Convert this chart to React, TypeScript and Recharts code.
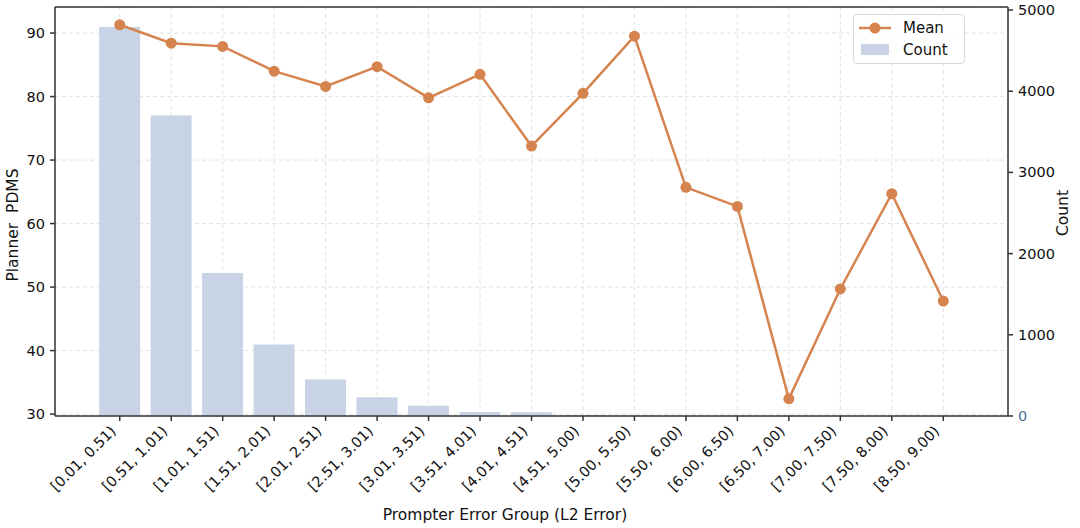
import React from 'react';
import {
  ComposedChart,
  Bar,
  Line,
  XAxis,
  YAxis,
  CartesianGrid,
  ReferenceLine,
} from 'recharts';

const groups = [
  '[0.01, 0.51)', '[0.51, 1.01)', '[1.01, 1.51)', '[1.51, 2.01)', '[2.01, 2.51)',
  '[2.51, 3.01)', '[3.01, 3.51)', '[3.51, 4.01)', '[4.01, 4.51)', '[4.51, 5.00)',
  '[5.00, 5.50)', '[5.50, 6.00)', '[6.00, 6.50)', '[6.50, 7.00)', '[7.00, 7.50)',
  '[7.50, 8.00)', '[8.50, 9.00)',
];
const meanValues = [
  91.3, 88.4, 87.9, 84.0, 81.6, 84.7, 79.8, 83.5, 72.2, 80.5,
  89.5, 65.7, 62.7, 32.4, 49.7, 64.7, 47.8,
];
const countValues = [
  4790, 3700, 1760, 880, 450, 230, 125, 48, 46, 12,
  6, 4, 3, 2, 2, 1, 1,
];
const leftTicks = [30, 40, 50, 60, 70, 80, 90];
const rightTicks = [0, 1000, 2000, 3000, 4000, 5000];

const data = groups.map((g, i) => ({ group: g, mean: meanValues[i], count: countValues[i] }));

const FONT = '"DejaVu Sans", sans-serif';
const ORANGE = '#D5844F';
const BAR = '#C8D4E5';
const AXIS = '#333333';

// right end of the rotated label sits just under the tick, like matplotlib ha="right"
const XTick = ({ x, y, payload }: any) => (
  <g transform={`translate(${x - 3},${y + 9})`}>
    <text transform="rotate(-45)" textAnchor="end" fontSize={14.5} fontFamily={FONT} fill="#111">
      {payload.value}
    </text>
  </g>
);

const LeftTick = ({ x, y, payload }: any) => (
  <text x={x - 3} y={y} dy={5} textAnchor="end" fontSize={14.5} fontFamily={FONT} fill="#111">
    {payload.value}
  </text>
);

const RightTick = ({ x, y, payload }: any) => (
  <text
    x={x + 3}
    y={y}
    dy={5}
    textAnchor="start"
    fontSize={14.5}
    fontFamily={FONT}
    fill={payload.value === 0 ? '#4A7396' : '#111'}
  >
    {payload.value}
  </text>
);

export default function App() {
  return (
    <div style={{ position: 'absolute', left: 0, top: 0, width: 1080, height: 528, background: '#fff' }}>
      <ComposedChart
        width={1080}
        height={528}
        data={data}
        margin={{ top: 7, right: 0, left: 0, bottom: 0 }}
        barCategoryGap="10%"
      >
        <CartesianGrid yAxisId="left" stroke="#e2e2e2" strokeDasharray="4 3" />
        <XAxis
          dataKey="group"
          height={112}
          padding={{ left: 39, right: 39 }}
          tick={<XTick />}
          tickSize={5}
          interval={0}
          stroke={AXIS}
          strokeWidth={1.5}
        />
        <YAxis
          yAxisId="left"
          orientation="left"
          width={55}
          domain={[29.7, 94.1]}
          ticks={leftTicks}
          tick={<LeftTick />}
          tickSize={5}
          stroke={AXIS}
          strokeWidth={1.5}
          allowDataOverflow
        />
        <YAxis
          yAxisId="right"
          orientation="right"
          width={72}
          domain={[0, 5037]}
          ticks={rightTicks}
          tick={<RightTick />}
          tickSize={5}
          stroke={AXIS}
          strokeWidth={1.5}
          allowDataOverflow
        />
        <ReferenceLine yAxisId="left" y={94.1} stroke={AXIS} strokeWidth={1.5} />
        <Bar yAxisId="right" dataKey="count" fill={BAR} isAnimationActive={false} />
        <Line
          yAxisId="left"
          dataKey="mean"
          stroke={ORANGE}
          strokeWidth={2.5}
          dot={{ r: 5.5, fill: ORANGE, stroke: ORANGE, strokeWidth: 0 }}
          isAnimationActive={false}
        />
        <text
          x={18}
          y={225}
          transform="rotate(-90, 18, 225)"
          textAnchor="middle"
          fontSize={15.5}
          fontFamily={FONT}
          fill="#111"
          style={{ whiteSpace: 'pre' }}
        >
          {'Planner  PDMS'}
        </text>
        <text x={1068} y={213} transform="rotate(-90, 1068, 213)" textAnchor="middle" fontSize={15.5} fontFamily={FONT} fill="#111">
          Count
        </text>
        <text x={505} y={520} textAnchor="middle" fontSize={15.5} fontFamily={FONT} fill="#111">
          Prompter Error Group (L2 Error)
        </text>
      </ComposedChart>
      <div
        style={{
          position: 'absolute',
          left: 853,
          top: 14,
          width: 112,
          height: 50,
          border: '1px solid #d8d8d8',
          borderRadius: 4,
          background: 'rgba(255,255,255,0.85)',
          boxSizing: 'border-box',
        }}
      >
        <svg width={112} height={50} style={{ position: 'absolute', left: 0, top: 0 }}>
          <line x1={5} y1={13} x2={37} y2={13} stroke={ORANGE} strokeWidth={2.5} />
          <circle cx={21} cy={13} r={5.5} fill={ORANGE} />
          <rect x={7} y={29} width={28} height={11} fill={BAR} />
          <text x={49} y={18} fontSize={15} fontFamily={FONT} fill="#111">Mean</text>
          <text x={49} y={40} fontSize={15} fontFamily={FONT} fill="#111">Count</text>
        </svg>
      </div>
    </div>
  );
}
